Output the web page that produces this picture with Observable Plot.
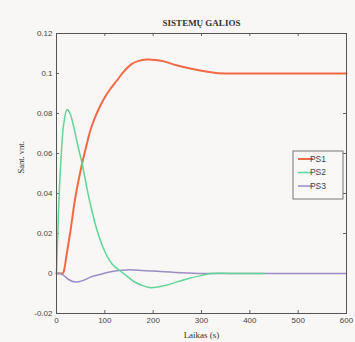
<!DOCTYPE html>
<html>
<head>
<meta charset="utf-8">
<script src="https://cdn.jsdelivr.net/npm/d3@7"></script>
<script src="https://cdn.jsdelivr.net/npm/@observablehq/plot@0.6"></script>
<style>
  html, body { margin: 0; padding: 0; background: #fbfbfa; }
  #chart { width: 355px; height: 342px; }
  svg { display: block; }
</style>
</head>
<body>
<div id="chart"></div>
<script>
const seriesNames = ["PS1", "PS2", "PS3"];
const seriesColors = ["#f26a45", "#62d496", "#9b8dc2"];

const t1 = [0, 10, 13, 16, 20, 29, 39, 53, 62, 70, 78, 85, 93, 101, 112, 125, 140, 156, 170, 187, 205, 220, 250, 297, 330, 360, 400, 500, 600];
const ps1 = [0, 0, 0, 0.002, 0.008, 0.0215, 0.038, 0.055, 0.064, 0.0715, 0.077, 0.081, 0.085, 0.0885, 0.0925, 0.0965, 0.1012, 0.1048, 0.1063, 0.107, 0.1068, 0.1062, 0.104, 0.1015, 0.1003, 0.1, 0.1, 0.1, 0.1];

const t2 = [0, 2, 4, 6, 10, 15, 22, 28, 35, 45, 53, 67, 84, 100, 115, 128, 139, 160, 180, 195, 220, 250, 277, 300, 320, 360, 430];
const ps2 = [0, 0.015, 0.03, 0.042, 0.06, 0.075, 0.082, 0.08, 0.074, 0.063, 0.055, 0.038, 0.0215, 0.011, 0.0048, 0.002, 0, -0.004, -0.0062, -0.0071, -0.0063, -0.0042, -0.0023, -0.001, 0, 0, 0];

const t3 = [0, 8, 15, 25, 39, 55, 70, 90, 105, 125, 145, 160, 200, 235, 270, 311, 360, 450, 600];
const ps3 = [0, 0, -0.001, -0.003, -0.0043, -0.0035, -0.0018, -0.0005, 0.0005, 0.0014, 0.0018, 0.0018, 0.0012, 0.0007, 0.0003, 0, 0, 0, 0];

const xTicks = [0, 100, 200, 300, 400, 500, 600];
const yTicks = [-0.02, 0, 0.02, 0.04, 0.06, 0.08, 0.1, 0.12];

const titleText = "SISTEMŲ GALIOS";
const xLabel = "Laikas (s)";
const yLabel = "Sant. vnt.";

const toRows = (ts, vs, s) => ts.map((t, i) => ({t, v: vs[i], s}));
const rows1 = toRows(t1, ps1, "PS1");
const rows2 = toRows(t2, ps2, "PS2");
const rows3 = toRows(t3, ps3, "PS3");

const fmtY = d => String(+d.toFixed(2));
const sans = "Liberation Sans, Arial, sans-serif";
const serif = "Liberation Serif, Times New Roman, serif";
const curve = "catmull-rom";

const W = 355, H = 342, mL = 56, mR = 9, mT = 33, mB = 29;
const fw = W - mL - mR, fh = H - mT - mB, tk = 3;

const chart = Plot.plot({
  width: W,
  height: H,
  marginLeft: mL,
  marginRight: mR,
  marginTop: mT,
  marginBottom: mB,
  style: {background: "#f8f7f5", fontFamily: sans, fontSize: "8px", color: "#444"},
  x: {domain: [0, 600], label: null},
  y: {domain: [-0.02, 0.12], label: null},
  marks: [
    Plot.axisX({anchor: "bottom", ticks: xTicks, tickSize: 0, tickPadding: 4, tickFormat: d => String(d)}),
    Plot.axisY({anchor: "left", ticks: yTicks, tickSize: 0, tickPadding: 4, tickFormat: fmtY}),
    // inward MATLAB-style tick marks on all four sides
    Plot.ruleX(xTicks, {stroke: "#666", insetBottom: fh - tk}),
    Plot.ruleX(xTicks, {stroke: "#666", insetTop: fh - tk}),
    Plot.ruleY(yTicks, {stroke: "#666", insetRight: fw - tk}),
    Plot.ruleY(yTicks, {stroke: "#666", insetLeft: fw - tk}),
    Plot.line(rows1, {x: "t", y: "v", stroke: seriesColors[0], strokeWidth: 2, curve}),
    Plot.line(rows3, {x: "t", y: "v", stroke: seriesColors[2], strokeWidth: 1.5, curve}),
    Plot.line(rows2, {x: "t", y: "v", stroke: seriesColors[1], strokeWidth: 1.5, curve}),
    Plot.frame({stroke: "#555", strokeWidth: 1}),
    Plot.text([titleText], {frameAnchor: "top", dy: -14, fontFamily: serif, fontSize: 9, fill: "#333", fontWeight: "bold"}),
    Plot.text([xLabel], {frameAnchor: "bottom", dy: 24, fontFamily: serif, fontSize: 9, fill: "#333"}),
    Plot.text([yLabel], {frameAnchor: "left", dx: -35, rotate: -90, fontFamily: serif, fontSize: 8.5, fill: "#333"})
  ]
});

document.getElementById("chart").appendChild(chart);

// Legend box (MATLAB style, inside the axes)
const svg = d3.select(chart);
const lg = svg.append("g").attr("transform", "translate(293,151)");
lg.append("rect").attr("width", 50).attr("height", 48)
  .attr("fill", "#f9f8f6").attr("stroke", "#777").attr("stroke-width", 1);
seriesNames.forEach((name, i) => {
  const y = 8 + i * 13.5;
  lg.append("line").attr("x1", 5).attr("x2", 20).attr("y1", y).attr("y2", y)
    .attr("stroke", seriesColors[i]).attr("stroke-width", i === 0 ? 2 : 1.5);
  lg.append("text").attr("x", 25).attr("y", y).attr("dy", "0.35em")
    .attr("font-family", sans).attr("font-size", 8.5).attr("fill", "#444").text(name);
});
</script>
</body>
</html>
